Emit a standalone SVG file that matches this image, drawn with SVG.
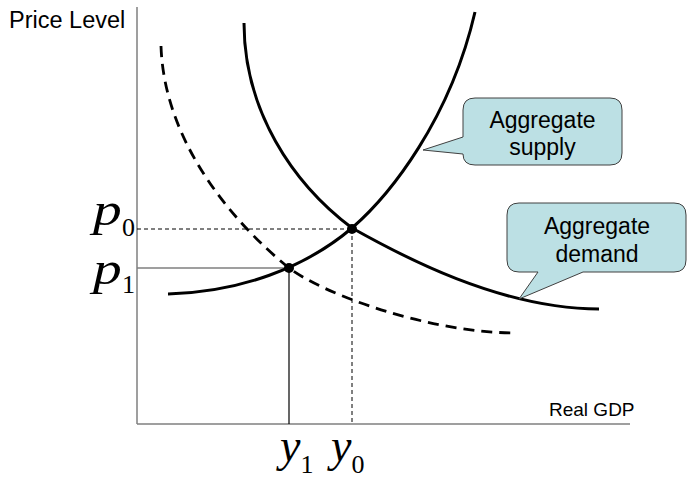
<svg xmlns="http://www.w3.org/2000/svg" width="688" height="477" viewBox="0 0 688 477">
<style>
.axis{stroke:#7f7f7f;stroke-width:1.5;fill:none}
.curve{stroke:#000;stroke-width:3;fill:none;stroke-linecap:butt}
.dcurve{stroke:#000;stroke-width:2.8;fill:none;stroke-dasharray:11 7}
.guide{stroke:#000;stroke-width:1;fill:none;stroke-dasharray:4 3}
.call{fill:#bce0e4;stroke:#404040;stroke-width:1}
.lbl{font-family:"Liberation Sans",Arial,sans-serif;fill:#000}
.math{font-family:"Liberation Serif","Times New Roman",serif;fill:#000}
.var{font-size:46px;font-style:italic}
.sub{font-size:26px;font-style:normal}
</style>
<rect width="688" height="477" fill="#fff"/>
<g id="axes">
<line class="axis" x1="137" y1="7" x2="137" y2="424"/>
<line class="axis" x1="137" y1="424" x2="630" y2="424"/>
<text class="lbl" x="9" y="28" font-size="23.5">Price Level</text>
<text class="lbl" x="549" y="416" font-size="19">Real GDP</text>
</g>
<g id="connectors">
<line class="guide" x1="137" y1="229" x2="352" y2="229"/>
<line class="guide" x1="352" y1="229" x2="352" y2="424"/>
<line x1="137" y1="268" x2="289" y2="268" stroke="#7f7f7f" stroke-width="1.5"/>
<line x1="289" y1="268" x2="289" y2="424" stroke="#000" stroke-width="1.2"/>
</g>
<g id="demand-shifted">
<path class="dcurve" d="M161,46 C164,140 230,220 289,268 C325,295 430,333 517,333"/>
</g>
<g id="demand">
<path class="curve" d="M244,23 C244,110 292,183 352,228 C400,255 500,309 599,309"/>
</g>
<g id="supply">
<path class="curve" d="M168,294 C240,292 305,268 352,228 C390,195 450,120 475,12"/>
</g>
<g id="points">
<circle cx="352" cy="229" r="5"/>
<circle cx="289" cy="268" r="5"/>
</g>
<g id="label-p0">
<text class="math var" transform="translate(88,225) scale(1.25,1)" x="4" y="0">p</text>
<text class="math sub" x="122" y="236">0</text>
</g>
<g id="label-p1">
<text class="math var" transform="translate(88,284) scale(1.25,1)" x="4" y="0">p</text>
<text class="math sub" x="122" y="293">1</text>
</g>
<g id="label-y1">
<text class="math" x="280" y="461"><tspan class="var">y</tspan><tspan class="sub" dy="12">1</tspan></text>
</g>
<g id="label-y0">
<text class="math" x="331" y="461"><tspan class="var">y</tspan><tspan class="sub" dy="12">0</tspan></text>
</g>
<g id="callout-supply">
<path class="call" d="M475,98 H610 Q622,98 622,110 V153 Q622,165 610,165 H475 Q463,165 463,154 L423,150 L463,137 V110 Q463,98 475,98 Z"/>
<text class="lbl" x="542.5" y="128" font-size="23" text-anchor="middle">Aggregate</text>
<text class="lbl" x="542.5" y="155" font-size="23" text-anchor="middle">supply</text>
</g>
<g id="callout-demand">
<path class="call" d="M519,203 H674 Q686,203 686,215 V260 Q686,272 674,272 H583 L519,299 L538,272 H519 Q507,272 507,260 V215 Q507,203 519,203 Z"/>
<text class="lbl" x="597" y="234" font-size="23" text-anchor="middle">Aggregate</text>
<text class="lbl" x="597" y="262" font-size="23" text-anchor="middle">demand</text>
</g>
</svg>
